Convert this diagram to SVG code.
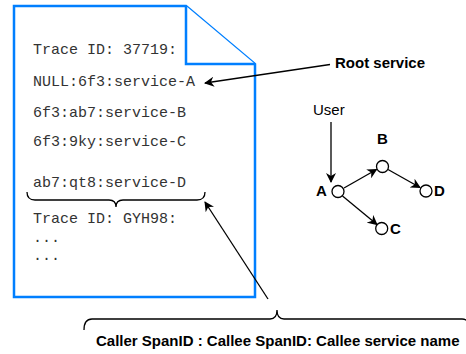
<svg xmlns="http://www.w3.org/2000/svg" width="466" height="354" viewBox="0 0 466 354">
<style>
.mono{font-family:"Liberation Mono","Courier New",monospace;font-size:15px;fill:#333333}
.lbl{font-family:"Liberation Sans",Arial,sans-serif;font-size:15px;fill:#000}
.b{font-weight:bold}
.doc{fill:#fff;stroke:#007FFF;stroke-width:2.5}
.edge{fill:none;stroke:#000;stroke-width:1.3}
.brace{fill:none;stroke:#000;stroke-width:1.3}
.node{fill:#fff;stroke:#000;stroke-width:1.3}
</style>
<defs>
<marker id="arr" viewBox="0 0 10 10" refX="9" refY="5" markerWidth="10" markerHeight="10" markerUnits="userSpaceOnUse" orient="auto">
<path d="M0,0 L10,5 L0,10 L3,5 Z" fill="#000"/>
</marker>
</defs>
<rect width="466" height="354" fill="#fff"/>
<g id="document">
<path class="doc" d="M14,6 L186,6 L255,64 L255,297 L14,297 Z"/>
<path class="doc" d="M186,6 L186,64 L255,64" fill="none"/>
<text class="mono" x="33" y="54">Trace ID: 37719:</text>
<text class="mono" x="33" y="86">NULL:6f3:service-A</text>
<text class="mono" x="33" y="117">6f3:ab7:service-B</text>
<text class="mono" x="33" y="146">6f3:9ky:service-C</text>
<text class="mono" x="33" y="187">ab7:qt8:service-D</text>
<text class="mono" x="33" y="223">Trace ID: GYH98:</text>
<text class="mono" x="33" y="242">...</text>
<text class="mono" x="33" y="260">...</text>
</g>
<g id="brace-record">
<path class="brace" d="M27,192 Q27,200 35,200 L109,200 Q116,200 116,207 Q116,200 123,200 L197,200 Q205,200 205,192"/>
</g>
<g id="brace-format">
<path class="brace" d="M84,330 Q84,319 92,319 L270,319 Q277,319 277,310 Q277,319 284,319 L462,319 Q470,319 470,330"/>
<text class="lbl b" x="96" y="346">Caller SpanID : Callee SpanID: Callee service name</text>
</g>
<g id="root-label">
<text class="lbl b" x="335" y="68">Root service</text>
</g>
<g id="user-label">
<text class="lbl" x="313" y="115">User</text>
</g>
<g id="node-A">
<circle class="node" cx="338" cy="191.5" r="6"/>
<text class="lbl b" x="316" y="196">A</text>
</g>
<g id="node-B">
<circle class="node" cx="382.5" cy="166.5" r="6"/>
<text class="lbl b" x="377" y="144">B</text>
</g>
<g id="node-C">
<circle class="node" cx="381.7" cy="228.5" r="6"/>
<text class="lbl b" x="390" y="234">C</text>
</g>
<g id="node-D">
<circle class="node" cx="426" cy="191" r="6"/>
<text class="lbl b" x="434" y="196">D</text>
</g>
<g id="connectors">
<line class="edge" x1="330" y1="64.5" x2="205" y2="83" marker-end="url(#arr)"/>
<line class="edge" x1="268" y1="299" x2="205" y2="202" marker-end="url(#arr)"/>
<line class="edge" x1="331" y1="122" x2="331" y2="182" marker-end="url(#arr)"/>
<line class="edge" x1="344" y1="188" x2="376.5" y2="169.5" marker-end="url(#arr)"/>
<line class="edge" x1="342.5" y1="196" x2="377" y2="224.5" marker-end="url(#arr)"/>
<line class="edge" x1="388" y1="169.5" x2="420" y2="187.5" marker-end="url(#arr)"/>
</g>
</svg>
